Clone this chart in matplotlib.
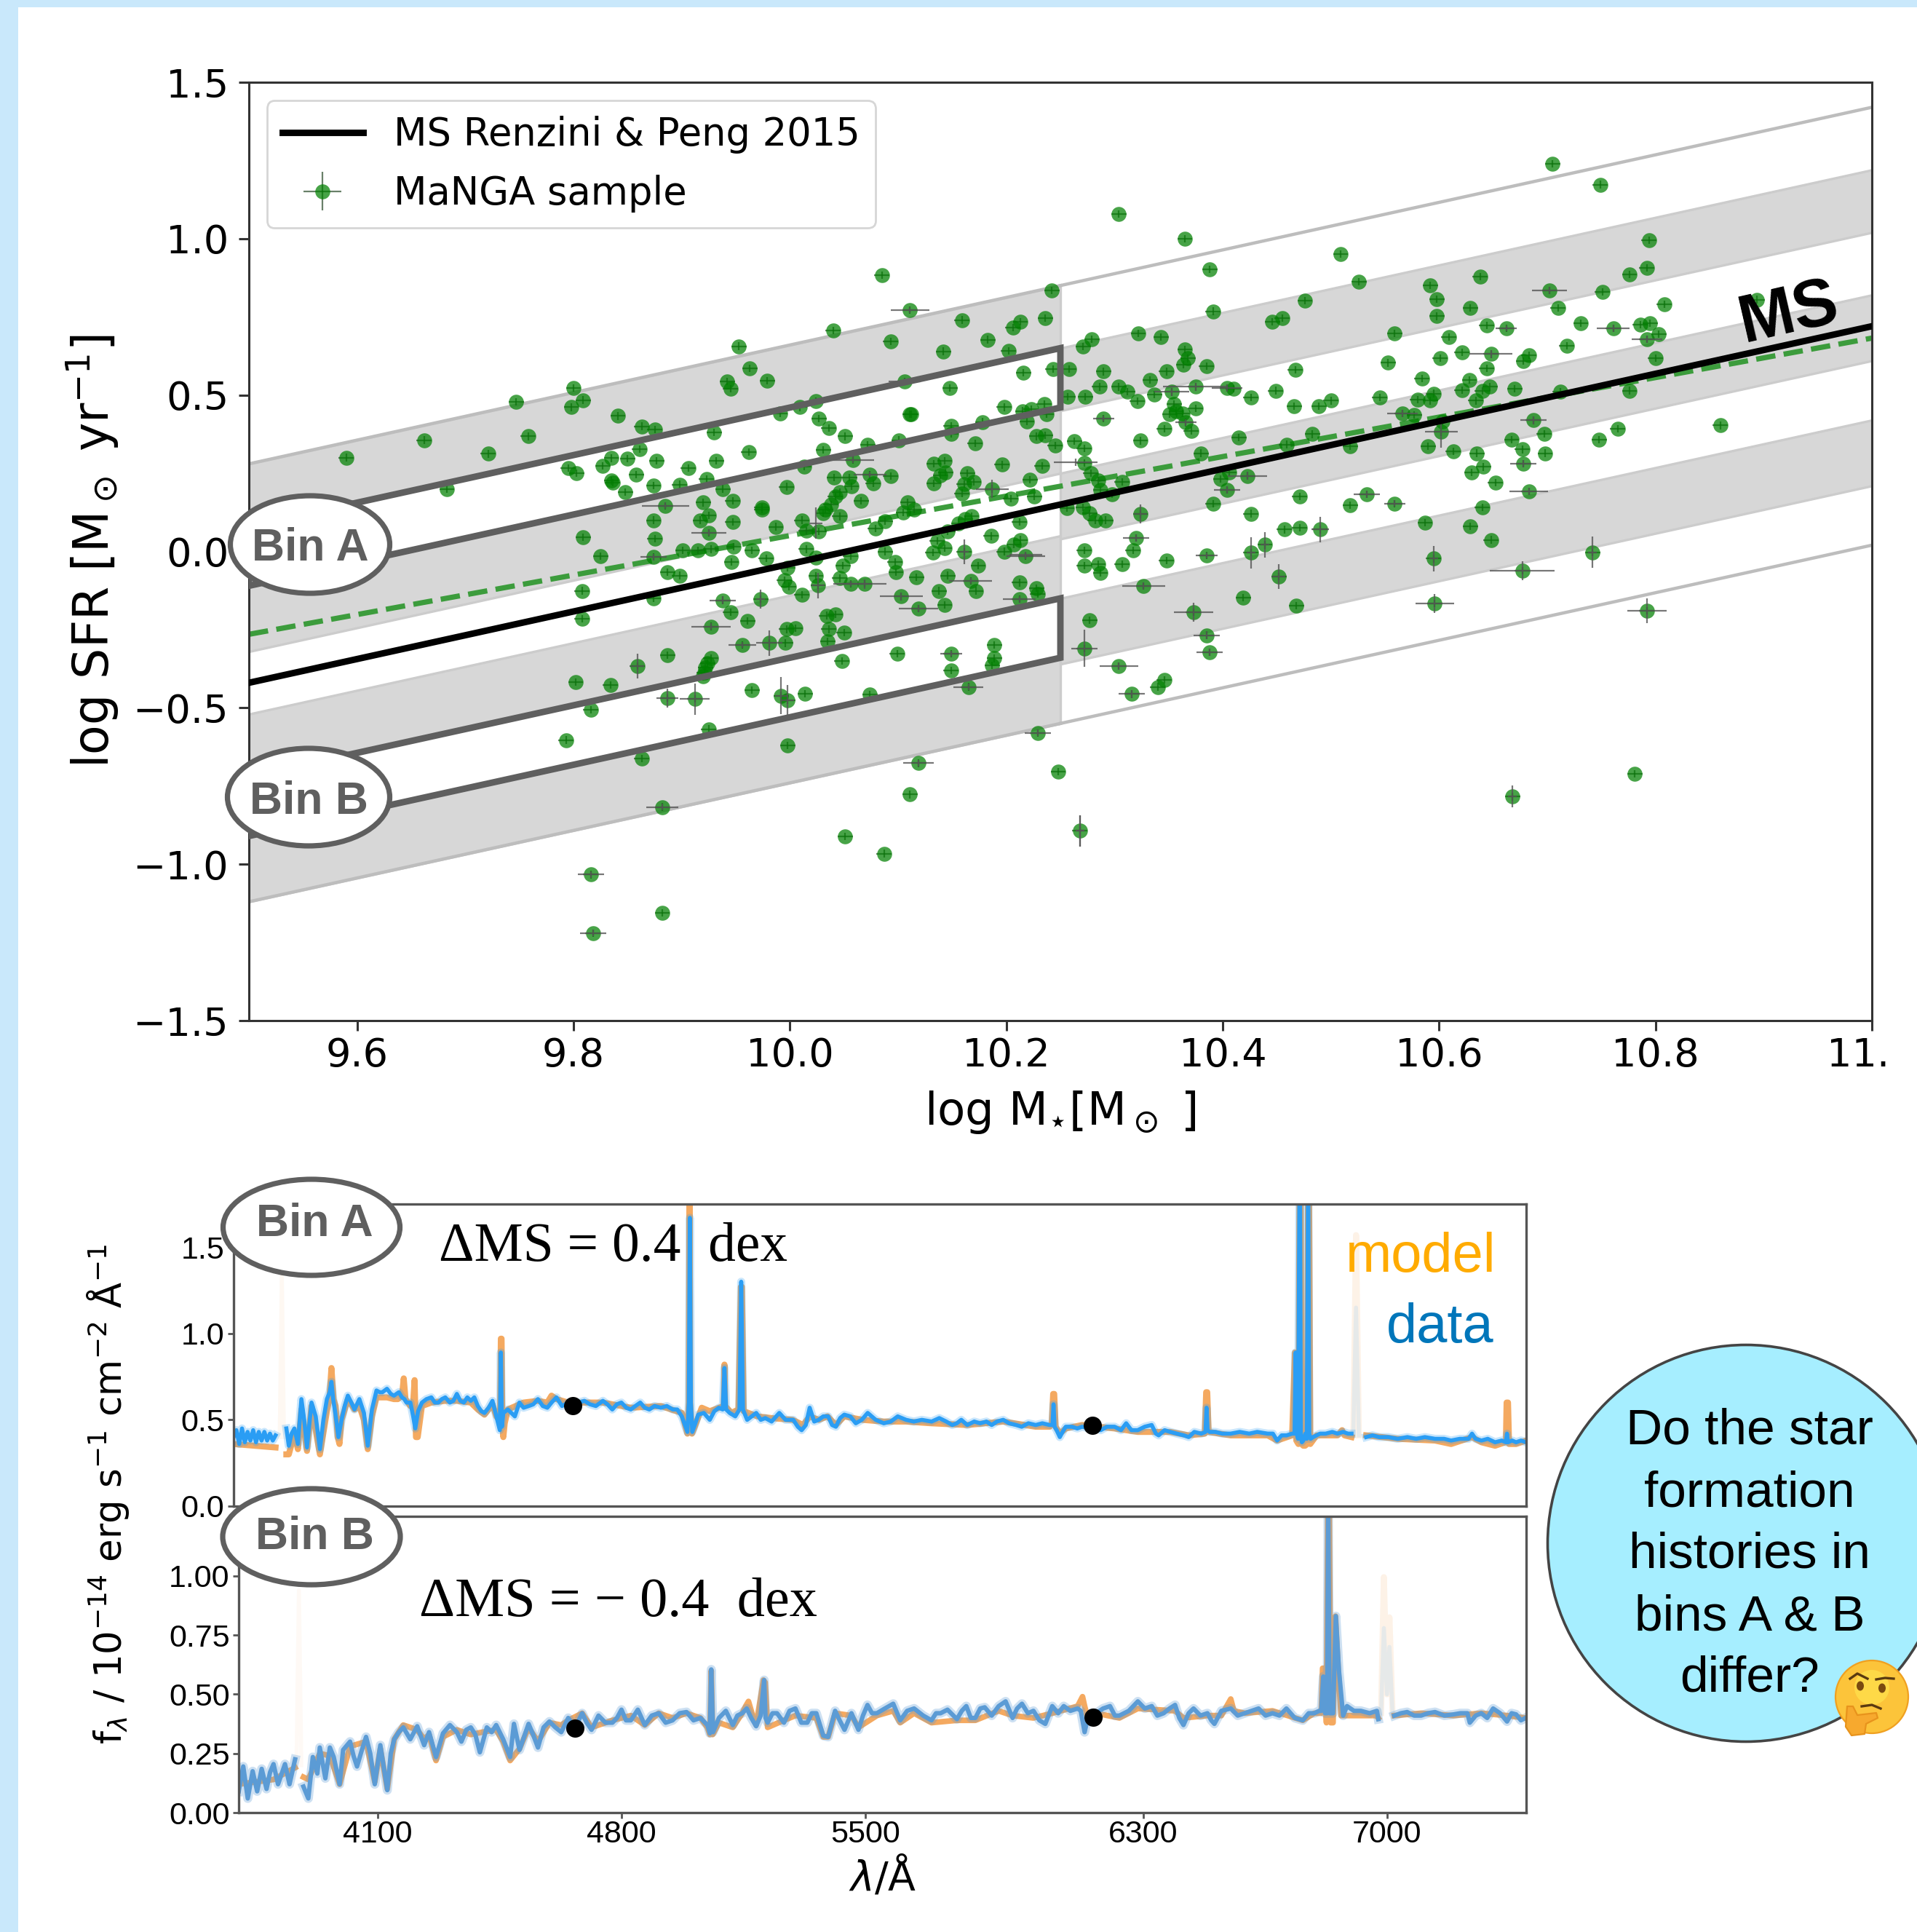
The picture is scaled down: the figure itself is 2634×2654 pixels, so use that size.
import matplotlib
matplotlib.use('Agg')
import matplotlib.pyplot as plt
import numpy as np
from matplotlib.patches import Ellipse, Circle, Rectangle, Polygon
from matplotlib.transforms import ScaledTranslation

nan = float('nan')
W, H = 2634, 2654

# main sequence and the offsets of the grey bands
ms_left_x = [9.5, 10.25]
ms_left_y = [-0.42, 0.15]
ms_right_x = [10.25, 11.0]
ms_right_y = [0.15, 0.72]
left_bands = [(0.70, 0.10), (-0.10, -0.70)]
right_bands = [(0.50, 0.30), (0.10, -0.11), (-0.30, -0.51)]
fit_x = [9.5, 11.0]
fit_y = [-0.265, 0.682]
bin_a_offsets = [0.50, 0.31]
bin_b_offsets = [-0.30, -0.49]

# MaNGA sample
mass = [9.590, 9.662, 9.721, 9.758, 9.747, 9.800, 9.809, 9.798, 9.841, 9.863,
        9.875, 9.683, 9.795, 9.803, 9.827, 9.835, 9.850, 9.861, 9.877, 9.836,
        9.835, 9.858, 9.848, 9.874, 9.898, 9.906, 9.923, 9.932, 9.930, 9.938,
        9.962, 9.942, 9.945, 9.963, 9.979, 9.953, 10.040, 10.085, 10.111, 10.093,
        10.142, 10.159, 10.183, 10.202, 10.206, 10.213, 10.236, 10.242, 10.216, 10.243,
        10.148, 10.106, 9.991, 10.009, 10.024, 10.027, 10.036, 10.051, 10.111, 10.112,
        10.198, 10.215, 10.223, 10.235, 10.237, 10.219, 10.149, 10.149, 10.178, 10.101,
        10.072, 10.031, 10.171, 10.228, 10.236, 10.245, 10.058, 10.013, 10.133, 10.143,
        10.144, 10.139, 10.196, 10.233, 10.041, 10.055, 10.074, 10.093, 10.077, 10.057,
        10.046, 10.042, 10.133, 10.164, 10.170, 10.161, 10.159, 10.187, 10.222, 9.997,
        10.066, 10.038, 10.033, 10.031, 10.046, 9.974, 9.974, 9.885, 9.920, 9.947,
        9.925, 9.917, 9.947, 9.874, 9.809, 9.875, 9.925, 9.987, 10.011, 10.015,
        10.027, 10.079, 10.088, 10.105, 10.109, 10.115, 10.156, 10.162, 10.168, 10.146,
        10.212, 10.226, 10.204, 10.256, 10.271, 10.136, 10.186, 10.213, 10.207, 10.198,
        10.218, 10.272, 10.272, 10.143, 10.132, 10.161, 10.088, 10.056, 10.049, 10.097,
        10.098, 10.174, 10.146, 10.117, 10.167, 10.172, 10.138, 10.212, 10.228, 10.229,
        10.103, 10.143, 10.119, 10.212, 10.069, 10.056, 10.046, 10.026, 10.024, 10.011,
        9.999, 9.995, 9.998, 9.978, 9.965, 9.948, 9.946, 9.927, 9.915, 9.901,
        9.874, 9.825, 9.887, 9.898, 9.808, 9.808, 9.874, 9.938, 9.945, 9.973,
        9.961, 9.927, 10.034, 10.042, 9.997, 10.005, 10.036, 10.050, 10.035, 9.996,
        9.981, 9.956, 9.887, 9.927, 9.924, 9.922, 9.921, 9.920, 9.859, 9.802,
        9.834, 10.048, 10.099, 10.149, 10.189, 10.189, 10.187, 10.149, 10.165, 10.074,
        10.014, 9.998, 9.992, 9.965, 9.912, 9.887, 9.816, 9.793, 9.925, 9.863,
        9.998, 9.882, 10.229, 10.248, 10.119, 10.111, 10.051, 10.087, 10.268, 9.816,
        9.818, 9.882, 10.024, 10.015, 10.272, 10.263, 10.258, 10.257, 10.273, 10.271,
        10.278, 10.272, 10.705, 10.749, 10.304, 10.365, 10.794, 10.792, 10.776, 10.509,
        10.388, 10.526, 10.592, 10.638, 10.598, 10.702, 10.751, 10.476, 10.629, 10.710,
        10.598, 10.391, 10.446, 10.455, 10.808, 10.322, 10.343, 10.279, 10.559, 10.644,
        10.662, 10.731, 10.761, 10.786, 10.795, 10.792, 10.803, 10.609, 10.718, 10.800,
        10.365, 10.368, 10.364, 10.385, 10.348, 10.290, 10.467, 10.553, 10.601, 10.621,
        10.648, 10.683, 10.678, 10.644, 10.584, 10.628, 10.647, 10.640, 10.670, 10.621,
        10.595, 10.580, 10.592, 10.634, 10.545, 10.500, 10.489, 10.466, 10.449, 10.426,
        10.404, 10.410, 10.375, 10.333, 10.337, 10.353, 10.304, 10.312, 10.286, 10.321,
        10.355, 10.375, 10.357, 10.351, 10.363, 10.290, 10.366, 10.371, 10.346, 10.324,
        10.415, 10.483, 10.459, 10.518, 10.380, 10.566, 10.577, 10.603, 10.602, 10.590,
        10.687, 10.697, 10.667, 10.677, 10.748, 10.765, 10.860, 10.712, 10.776, 10.894,
        10.698, 10.613, 10.635, 10.678, 10.641, 10.630, 10.652, 10.683, 10.640, 10.587,
        10.629, 10.648, 10.595, 10.742, 10.677, 10.596, 10.792, 10.533, 10.559, 10.518,
        10.471, 10.490, 10.471, 10.457, 10.426, 10.423, 10.406, 10.398, 10.404, 10.391,
        10.307, 10.285, 10.287, 10.298, 10.277, 10.282, 10.292, 10.324, 10.320, 10.317,
        10.285, 10.287, 10.307, 10.348, 10.385, 10.426, 10.439, 10.452, 10.327, 10.419,
        10.468, 10.373, 10.277, 10.385, 10.388, 10.304, 10.346, 10.340, 10.316, 10.781,
        10.668, 10.272]
sfr = [0.300, 0.356, 0.312, 0.368, 0.478, 0.522, 0.484, 0.461, 0.433, 0.400,
       0.390, 0.200, 0.266, 0.250, 0.274, 0.298, 0.296, 0.327, 0.290, 0.220,
       0.226, 0.245, 0.190, 0.211, 0.214, 0.266, 0.232, 0.290, 0.380, 0.200,
       0.317, 0.543, 0.520, 0.585, 0.545, 0.656, 0.707, 0.884, 0.772, 0.671,
       0.640, 0.740, 0.677, 0.641, 0.716, 0.734, 0.746, 0.835, 0.571, 0.583,
       0.522, 0.543, 0.442, 0.461, 0.481, 0.424, 0.394, 0.368, 0.439, 0.438,
       0.461, 0.449, 0.454, 0.472, 0.439, 0.415, 0.402, 0.376, 0.414, 0.356,
       0.341, 0.324, 0.345, 0.368, 0.372, 0.339, 0.293, 0.271, 0.280, 0.290,
       0.253, 0.243, 0.277, 0.274, 0.237, 0.237, 0.246, 0.241, 0.217, 0.208,
       0.190, 0.176, 0.217, 0.250, 0.223, 0.216, 0.186, 0.200, 0.229, 0.207,
       0.162, 0.149, 0.134, 0.122, 0.112, 0.141, 0.134, 0.146, 0.156, 0.162,
       0.116, 0.100, 0.094, 0.100, 0.045, 0.040, 0.060, 0.079, 0.100, 0.067,
       0.064, 0.074, 0.097, 0.124, 0.156, 0.134, 0.089, 0.104, 0.112, 0.064,
       0.094, 0.176, 0.168, 0.138, 0.141, 0.034, 0.049, 0.037, 0.022, 0.000,
       -0.015, 0.004, -0.045, 0.010, -0.004, -0.001, 0.000, -0.015, -0.045, -0.034,
       -0.067, -0.045, -0.077, -0.082, -0.094, -0.126, -0.126, -0.100, -0.118, -0.135,
       -0.144, -0.171, -0.183, -0.153, -0.104, -0.104, -0.086, -0.109, -0.079, -0.138,
       -0.112, -0.092, -0.052, -0.022, 0.004, 0.015, -0.033, 0.007, 0.004, 0.004,
       -0.018, -0.015, -0.067, -0.077, -0.126, -0.216, -0.149, -0.156, -0.195, -0.153,
       -0.223, -0.240, -0.205, -0.201, -0.249, -0.246, -0.249, -0.260, -0.287, -0.293,
       -0.293, -0.299, -0.332, -0.342, -0.357, -0.372, -0.387, -0.400, -0.366, -0.417,
       -0.427, -0.350, -0.327, -0.327, -0.299, -0.342, -0.365, -0.381, -0.433, -0.458,
       -0.455, -0.476, -0.461, -0.443, -0.472, -0.469, -0.506, -0.603, -0.568, -0.662,
       -0.620, -0.817, -0.580, -0.704, -0.677, -0.777, -0.911, -0.966, -0.893, -1.033,
       -1.220, -1.155, -0.020, 0.007, 0.283, 0.352, 0.583, 0.494, 0.494, 0.655,
       0.250, 0.330, 1.240, 1.173, 1.078, 1.000, 0.995, 0.906, 0.885, 0.951,
       0.902, 0.862, 0.851, 0.879, 0.807, 0.835, 0.830, 0.802, 0.778, 0.778,
       0.752, 0.768, 0.734, 0.746, 0.790, 0.697, 0.686, 0.679, 0.697, 0.723,
       0.713, 0.730, 0.713, 0.725, 0.730, 0.679, 0.695, 0.686, 0.657, 0.618,
       0.646, 0.617, 0.597, 0.593, 0.575, 0.575, 0.581, 0.603, 0.618, 0.636,
       0.631, 0.627, 0.608, 0.585, 0.553, 0.548, 0.526, 0.513, 0.520, 0.516,
       0.505, 0.486, 0.482, 0.482, 0.493, 0.482, 0.464, 0.464, 0.514, 0.492,
       0.523, 0.520, 0.526, 0.548, 0.501, 0.510, 0.526, 0.511, 0.526, 0.481,
       0.471, 0.458, 0.449, 0.438, 0.441, 0.425, 0.412, 0.386, 0.392, 0.354,
       0.364, 0.375, 0.342, 0.337, 0.314, 0.441, 0.437, 0.416, 0.382, 0.337,
       0.419, 0.376, 0.358, 0.326, 0.358, 0.392, 0.403, 0.510, 0.514, 0.805,
       0.314, 0.320, 0.314, 0.281, 0.270, 0.253, 0.220, 0.192, 0.141, 0.092,
       0.080, 0.037, -0.023, -0.003, -0.062, -0.167, -0.190, 0.182, 0.153, 0.147,
       0.176, 0.070, 0.075, 0.070, 0.121, 0.242, 0.253, 0.231, 0.196, 0.153,
       0.222, 0.226, 0.196, 0.182, 0.122, 0.100, 0.100, 0.119, 0.043, 0.003,
       -0.041, -0.068, -0.041, -0.029, -0.013, -0.004, 0.021, -0.080, -0.111, -0.147,
       -0.173, -0.194, -0.220, -0.268, -0.322, -0.366, -0.411, -0.433, -0.456, -0.711,
       -0.784, -0.310]

# the points with error bars that stick out of the marker
mass_w = [9.885, 9.925, 9.874, 9.938, 9.927, 9.973, 9.981, 9.992, 9.998, 9.912,
          9.887, 9.859, 9.956, 10.026, 10.069, 10.056, 10.103, 10.119, 10.167, 10.161,
          10.187, 10.218, 10.212, 10.058, 10.074, 10.024, 9.882, 10.119, 10.111, 10.229,
          9.816, 9.818, 10.268, 10.149, 10.165, 10.106, 10.702, 10.662, 10.761, 10.792,
          10.648, 10.375, 10.404, 10.353, 10.290, 10.366, 10.566, 10.602, 10.687, 10.264,
          10.423, 10.404, 10.324, 10.218, 10.320, 10.385, 10.426, 10.439, 10.490, 10.452,
          10.327, 10.373, 10.272, 10.385, 10.388, 10.304, 10.316, 10.533, 10.559, 10.595,
          10.742, 10.677, 10.596, 10.792, 10.683, 10.678, 10.668, 10.268]
sfr_w = [0.146, 0.060, -0.018, -0.156, -0.240, -0.153, -0.293, -0.461, -0.476, -0.472,
         -0.469, -0.366, -0.299, -0.109, -0.104, -0.104, -0.144, -0.183, -0.094, -0.001,
         0.200, -0.015, -0.153, 0.293, 0.246, 0.090, -0.817, -0.677, 0.772, -0.580,
         -1.033, -1.220, -0.893, -0.327, -0.433, 0.543, 0.835, 0.713, 0.713, 0.679,
         0.631, 0.526, 0.523, 0.510, 0.425, 0.412, 0.441, 0.382, 0.419, 0.285,
         0.242, 0.196, 0.119, -0.011, 0.043, -0.013, -0.004, 0.021, 0.070, -0.080,
         -0.111, -0.194, -0.310, -0.268, -0.322, -0.366, -0.456, 0.182, 0.153, -0.023,
         -0.003, -0.062, -0.167, -0.190, 0.192, 0.281, -0.784, -0.893]
xerr_w = [0.022, 0.016, 0.012, 0.012, 0.018, 0.004, 0.012, 0.006, 0.006, 0.014,
          0.010, 0.006, 0.013, 0.006, 0.020, 0.016, 0.020, 0.018, 0.020, 0.004,
          0.015, 0.018, 0.015, 0.020, 0.015, 0.006, 0.015, 0.014, 0.018, 0.012,
          0.012, 0.012, 0.004, 0.010, 0.014, 0.015, 0.016, 0.010, 0.015, 0.014,
          0.020, 0.030, 0.014, 0.016, 0.010, 0.010, 0.014, 0.015, 0.012, 0.020,
          0.018, 0.012, 0.006, 0.015, 0.012, 0.010, 0.004, 0.004, 0.008, 0.006,
          0.020, 0.018, 0.012, 0.012, 0.012, 0.018, 0.012, 0.012, 0.010, 0.004,
          0.004, 0.030, 0.018, 0.018, 0.018, 0.012, 0.004, 0.004]
yerr_w = [0.010, 0.010, 0.010, 0.012, 0.010, 0.030, 0.040, 0.060, 0.050, 0.050,
          0.030, 0.040, 0.010, 0.040, 0.015, 0.010, 0.012, 0.012, 0.010, 0.040,
          0.030, 0.010, 0.010, 0.010, 0.010, 0.050, 0.010, 0.010, 0.010, 0.010,
          0.010, 0.010, 0.050, 0.010, 0.010, 0.010, 0.012, 0.010, 0.012, 0.012,
          0.012, 0.012, 0.012, 0.012, 0.010, 0.010, 0.012, 0.050, 0.012, 0.012,
          0.012, 0.012, 0.030, 0.010, 0.012, 0.010, 0.050, 0.040, 0.040, 0.040,
          0.012, 0.030, 0.060, 0.012, 0.012, 0.012, 0.012, 0.012, 0.010, 0.040,
          0.050, 0.030, 0.030, 0.040, 0.012, 0.012, 0.035, 0.050]

# spectrum of bin A
wave_a = [3700, 3708, 3716, 3724, 3732, 3740, 3748, 3756, 3764, 3772,
          3780, 3788, 3796, 3804, 3812, 3820, 3835, 3851, 3858, 3866,
          3874, 3884, 3894, 3902, 3910, 3923, 3935, 3947, 3957, 3967,
          3975, 3980, 3985, 3991, 4000, 4009, 4018, 4027, 4037, 4046,
          4060, 4073, 4084, 4096, 4109, 4118, 4126, 4139, 4150, 4159,
          4173, 4182, 4189, 4195, 4206, 4214, 4220, 4228, 4239, 4252,
          4266, 4276, 4286, 4296, 4306, 4319, 4329, 4339, 4349, 4359,
          4369, 4379, 4389, 4399, 4409, 4418, 4430, 4441, 4452, 4462,
          4465, 4468, 4472, 4485, 4495, 4505, 4518, 4530, 4545, 4558,
          4571, 4585, 4598, 4610, 4624, 4640, 4658, 4672, 4688, 4704,
          4720, 4737, 4757, 4770, 4784, 4797, 4810, 4824, 4837, 4850,
          4864, 4877, 4890, 4905, 4923, 4940, 4957, 4970, 4983, 4992,
          4999, 5003, 5006, 5009, 5013, 5020, 5030, 5046, 5063, 5076,
          5089, 5100, 5105, 5110, 5120, 5136, 5148, 5153, 5158, 5170,
          5183, 5196, 5209, 5222, 5240, 5262, 5280, 5302, 5315, 5326,
          5338, 5349, 5362, 5375, 5388, 5402, 5413, 5424, 5436, 5448,
          5465, 5481, 5498, 5515, 5538, 5561, 5581, 5601, 5625, 5647,
          5670, 5698, 5720, 5740, 5757, 5770, 5783, 5800, 5820, 5837,
          5855, 5870, 5885, 5903, 5920, 5940, 5956, 5975, 5996, 6015,
          6036, 6044, 6047, 6050, 6056, 6065, 6073, 6082, 6100, 6115,
          6129, 6150, 6165, 6182, 6200, 6222, 6240, 6255, 6270, 6288,
          6308, 6328, 6340, 6348, 6365, 6381, 6400, 6420, 6434, 6450,
          6470, 6482, 6485, 6488, 6494, 6510, 6530, 6554, 6580, 6607,
          6630, 6660, 6675, 6687, 6700, 6714, 6730, 6737, 6740, 6743,
          6747, 6752, 6755, 6758, 6762, 6768, 6772, 6776, 6779, 6783,
          6790, 6810, 6826, 6845, 6860, 6876, 6890, 6900, 6915, 6942,
          6960, 6979, 7005, 7032, 7060, 7085, 7110, 7139, 7165, 7185,
          7210, 7235, 7245, 7255, 7272, 7290, 7311, 7330, 7342, 7345,
          7348, 7360, 7371, 7385, 7400]
data_a = [.40, .44, .36, .45, .37, .43, .38, .44, .37, .43,
          .38, .43, .38, .42, .38, .41, nan, .45, .35, .42,
          .45, .36, .62, .50, .34, .60, .52, .33, .50, .62,
          .66, .72, .62, .54, .40, .50, .58, .64, .60, .56,
          .62, .54, .35, .56, .67, .66, .66, .68, .65, .64,
          .66, .63, .62, .60, .60, .52, .45, .55, .60, .62,
          .63, .60, .60, .62, .63, .60, .61, .65, .61, .60,
          .63, .61, .63, .58, .55, .54, .57, .61, .52, .44,
          .89, .46, .54, .56, .54, .52, .60, .57, .58, .59,
          .62, .58, .57, .60, .63, .58, .60, .58, .60, .61,
          .59, .58, .61, .59, .56, .59, .60, .57, .56, .58,
          .60, .57, .56, .58, .57, .58, .56, .56, .52, .47,
          .43, .60, 1.67, .60, .43, .47, .53, .54, .50, .55,
          .57, .56, .80, .56, .54, .52, .56, 1.30, .56, .50,
          .52, .54, .50, .51, .49, .54, .50, .50, .46, .44,
          .47, .57, .49, .50, .52, .52, .47, .46, .51, .53,
          .52, .48, .50, .54, .50, .48, .49, .52, .50, .49,
          .50, .49, .51, .49, .47, .48, .50, .47, .49, .48,
          .49, .47, .49, .50, .48, .47, .46, .48, .47, .48,
          .47, .47, .59, .46, .44, .40, .43, .46, .46, .45,
          .46, .45, .47, .44, .46, .46, .44, .48, .44, .44,
          .46, .47, .42, .41, .44, .43, .42, .41, .40, .43,
          .42, .43, .57, .44, .43, .43, .42, .42, .43, .42,
          .43, .42, .42, .38, .41, .41, .42, .42, .89, .42,
          .39, 2.2, .40, .37, .38, .42, .39, 2.0, .42, .39,
          .40, .42, .42, .43, .42, .43, .42, .42, nan, .40,
          .41, .40, .40, .39, .40, .39, .40, .39, .39, .38,
          .39, .39, .42, .39, .38, .39, .37, .38, .37, .42,
          .37, .38, .37, .38, .37]
wave_model_a = [3700, 3820, 3835, 3851, 3858, 3874, 3884, 3894, 3910, 3923,
                3947, 3967, 3974, 3980, 3986, 3992, 3998, 4003, 4009, 4027,
                4046, 4060, 4073, 4084, 4096, 4109, 4139, 4159, 4170, 4182,
                4187, 4192, 4206, 4214, 4218, 4222, 4227, 4239, 4266, 4306,
                4339, 4379, 4399, 4418, 4441, 4452, 4460, 4463, 4465, 4467,
                4469, 4472, 4476, 4485, 4530, 4571, 4598, 4610, 4624, 4658,
                4700, 4757, 4837, 4923, 4983, 4999, 5003, 5005, 5007, 5012,
                5020, 5040, 5063, 5090, 5103, 5105, 5107, 5125, 5145, 5152,
                5155, 5160, 5200, 5240, 5300, 5330, 5349, 5375, 5400, 5424,
                5448, 5500, 5561, 5625, 5698, 5800, 5903, 5996, 6036, 6042,
                6046, 6049, 6053, 6065, 6082, 6129, 6222, 6288, 6381, 6434,
                6480, 6484, 6487, 6491, 6554, 6660, 6687, 6730, 6738, 6742,
                6748, 6752, 6754, 6757, 6762, 6767, 6773, 6776, 6778, 6782,
                6800, 6860, 6873, 6880, 6900, 6915, 6942, 7032, 7139, 7185,
                7245, 7272, 7311, 7340, 7342, 7344, 7348, 7351, 7371, 7400]
model_a = [.36, .34, nan, .30, .30, .42, .33, .56, .32, .58,
           .30, .55, .62, .80, .62, .58, .40, .36, .50, .62,
           .56, .58, .50, .33, .52, .63, .63, .62, .62, .64,
           .74, .62, .58, .60, .73, .40, .40, .58, .60, .61,
           .61, .60, .56, .53, .59, .52, .50, .56, .97, .97,
           .50, .40, .48, .56, .60, .61, .60, .64, .62, .60,
           .60, .60, .57, .58, .54, .42, .60, 2.0, .60, .42,
           .46, .57, .55, .57, .58, .82, .58, .54, .56, 1.27,
           1.27, .55, .52, .51, .50, .47, .52, .50, .52, .47,
           .52, .50, .49, .49, .48, .47, .49, .46, .46, .48,
           .65, .65, .46, .42, .45, .47, .45, .43, .43, .41,
           .42, .66, .66, .43, .41, .41, .38, .41, .89, .38,
           .36, 2.2, 2.2, .36, .35, .35, .36, 2.0, 2.0, .36,
           .41, .41, .44, .41, .40, nan, .41, .39, .38, .36,
           .40, .37, .35, .37, .37, .60, .60, .36, .36, .38]
dots_a_wave = [4671, 6158]
dots_a_flux = [0.582, 0.470]

# spectrum of bin B
wave_b = [3700, 3713, 3726, 3740, 3753, 3766, 3780, 3790, 3800, 3813,
          3833, 3846, 3862, 3870, 3886, 3900, 3913, 3926, 3933, 3949,
          3962, 3973, 3990, 4000, 4020, 4030, 4040, 4053, 4066, 4078,
          4091, 4107, 4127, 4137, 4147, 4160, 4173, 4193, 4213, 4233,
          4247, 4267, 4287, 4307, 4327, 4340, 4354, 4367, 4380, 4393,
          4413, 4427, 4440, 4460, 4480, 4491, 4507, 4533, 4546, 4560,
          4576, 4593, 4610, 4627, 4647, 4667, 4687, 4700, 4714, 4734,
          4754, 4774, 4787, 4800, 4813, 4827, 4847, 4867, 4887, 4907,
          4927, 4947, 4967, 4987, 5007, 5027, 5047, 5054, 5058, 5063,
          5080, 5100, 5120, 5133, 5147, 5160, 5173, 5187, 5200, 5210,
          5214, 5220, 5234, 5247, 5267, 5283, 5300, 5317, 5334, 5347,
          5360, 5380, 5394, 5414, 5427, 5441, 5461, 5481, 5494, 5507,
          5520, 5534, 5557, 5581, 5601, 5621, 5641, 5667, 5691, 5704,
          5717, 5737, 5764, 5778, 5791, 5804, 5817, 5831, 5844, 5864,
          5884, 5904, 5924, 5937, 5951, 5968, 5984, 6001, 6018, 6038,
          6055, 6071, 6090, 6111, 6120, 6131, 6140, 6150, 6164, 6184,
          6204, 6218, 6231, 6258, 6284, 6304, 6324, 6340, 6358, 6375,
          6391, 6403, 6415, 6430, 6444, 6464, 6484, 6495, 6504, 6524,
          6551, 6571, 6591, 6611, 6631, 6651, 6671, 6691, 6711, 6735,
          6758, 6775, 6791, 6805, 6811, 6817, 6822, 6828, 6831, 6835,
          6839, 6845, 6853, 6862, 6874, 6885, 6905, 6925, 6950, 6971,
          6975, 6990, 7021, 7040, 7058, 7078, 7098, 7118, 7138, 7165,
          7191, 7211, 7231, 7238, 7255, 7271, 7288, 7305, 7325, 7345,
          7358, 7371, 7385, 7398]
data_b = [.09, .195, .06, .175, .09, .185, .10, .17, .205, .12,
          .205, .12, .225, nan, .11, .06, .235, .165, .275, .145,
          .275, .235, .12, .265, .30, .24, .195, .26, .32, .25,
          .12, .285, .095, .25, .31, .34, .36, .31, .365, .285,
          .34, .235, .335, .37, .34, .30, .35, .36, .33, .255,
          .36, .34, .37, .31, .235, .375, .265, .375, .33, .275,
          .36, .385, .36, .34, .40, .36, .42, .38, .35, .41,
          .38, .38, .40, .435, .39, .39, .435, .37, .41, .42,
          .38, .39, .42, .425, .39, .40, .37, .335, .605, .34,
          .40, .43, .37, .41, .42, .44, .40, .365, .41, .56,
          .40, .38, .42, .42, .38, .43, .44, .38, .38, .42,
          .42, .325, .32, .43, .39, .35, .42, .35, .41, .455,
          .42, .42, .44, .46, .39, .43, .44, .41, .39, .42,
          .42, .435, .395, .43, .45, .40, .40, .44, .445, .41,
          .45, .47, .40, .44, .46, .42, .43, .39, .375, .45,
          .42, .45, .43, .44, .43, .34, .40, .42, .42, .44,
          .45, .41, .41, .43, .47, .44, .45, .41, .42, .44,
          .455, .40, .37, .42, .44, .41, .42, .39, .375, .43,
          .44, .41, .42, .43, .44, .41, .42, .41, .44, .40,
          .39, .42, .42, .43, .43, .575, .42, .42, 1.30, .42,
          .42, .42, .83, .60, .41, .45, .43, .43, .42, .43,
          .395, nan, .41, .42, .425, .41, .41, .42, .425, .41,
          .415, .42, .42, .38, .41, .42, .40, .44, .42, .385,
          .42, .415, .39, .40]
wave_model_b = [3700, 3800, 3862, 3870, 3886, 3900, 3933, 3962, 3990, 4020,
                4066, 4091, 4107, 4127, 4147, 4173, 4213, 4233, 4247, 4267,
                4287, 4327, 4367, 4400, 4440, 4460, 4480, 4507, 4533, 4560,
                4593, 4627, 4647, 4687, 4714, 4774, 4827, 4867, 4907, 4947,
                4987, 5027, 5047, 5054, 5058, 5062, 5080, 5120, 5147, 5157,
                5165, 5175, 5187, 5208, 5213, 5220, 5267, 5300, 5360, 5380,
                5394, 5414, 5461, 5481, 5534, 5581, 5601, 5641, 5691, 5764,
                5817, 5884, 5924, 5984, 6038, 6111, 6125, 6131, 6140, 6164,
                6231, 6284, 6391, 6415, 6484, 6524, 6551, 6560, 6591, 6671,
                6758, 6791, 6811, 6815, 6820, 6826, 6830, 6834, 6838, 6845,
                6852, 6860, 6868, 6885, 6925, 6971, 6975, 6990, 7021, 7098,
                7191, 7271, 7345, 7398]
model_b = [.12, .14, .19, nan, .15, .14, .25, .24, .12, .28,
           .30, .13, .27, .10, .31, .37, .35, .31, .33, .22,
           .32, .35, .33, .34, .35, .30, .22, .27, .36, .30,
           .38, .37, .39, .42, .36, .39, .41, .37, .42, .40,
           .42, .40, .36, .33, .60, .33, .38, .36, .42, .45,
           .47, .42, .37, .56, .55, .36, .39, .41, .40, .32,
           .32, .42, .41, .36, .41, .43, .38, .42, .38, .39,
           .39, .43, .41, .40, .42, .45, .49, .45, .40, .42,
           .40, .44, .43, .40, .41, .41, .48, .43, .42, .43,
           .39, .42, .42, .61, .61, .38, 1.30, 1.30, .38, .38,
           .83, .60, .41, .41, .41, .41, .40, nan, .41, .42,
           .41, .42, .41, .40]
dots_b_wave = [4667, 6156]
dots_b_flux = [0.357, 0.403]

# masked sky lines, almost invisible
sky_wave_a1 = [3832, 3838, 3844]
sky_flux_a1 = [.40, 1.33, .40]
sky_wave_a2 = [6905, 6913, 6921]
sky_model_a2 = [.41, 1.57, .41]
sky_data_a2 = [.41, 1.15, .41]
sky_wave_b1 = [3866, 3873, 3880]
sky_flux_b1 = [.20, .94, .20]
sky_wave_b2 = [6983, 6991, 7000, 7007, 7016]
sky_model_b2 = [.42, .995, .50, .825, .42]
sky_data_b2 = [.42, .78, .50, .70, .42]

wave_ticks = [4100, 4800, 5500, 6300, 7000]
question = ['Do the star', 'formation', 'histories in', 'bins A & B', 'differ?']

BOX = '#5f5f5f'
ORANGE = '#f4a960'


def px_axes(fig, left, top, right, bottom):
    return fig.add_axes([left / W, 1 - bottom / H, (right - left) / W, (bottom - top) / H])


fig = plt.figure(figsize=(W / 200, H / 200), dpi=200, facecolor='#c9e8fb')
fig.add_artist(Rectangle((25 / W, 0), 1, 1 - 10 / H, transform=fig.transFigure,
                         facecolor='white', edgecolor='none', zorder=-5))

# ---- top panel
ax = px_axes(fig, 342, 113, 2572, 1402)
for (xs, ys, bands) in [(ms_left_x, ms_left_y, left_bands), (ms_right_x, ms_right_y, right_bands)]:
    for up, low in bands:
        ax.fill_between(xs, np.array(ys) + up, np.array(ys) + low, color='#d7d7d7', lw=1.2,
                        edgecolor='#cccccc', zorder=1)
ax.plot(ms_right_x, np.array(ms_right_y) + 0.70, color='#bdbdbd', lw=1.6, zorder=1)
ax.plot(ms_right_x, np.array(ms_right_y) - 0.70, color='#bdbdbd', lw=1.6, zorder=1)
ax.plot(ms_left_x, np.array(ms_left_y) + 0.70, color='#bdbdbd', lw=1.6, zorder=1)
ax.plot(ms_left_x, np.array(ms_left_y) - 0.70, color='#bdbdbd', lw=1.6, zorder=1)

for offs in (bin_a_offsets, bin_b_offsets):
    xy = [(ms_left_x[0], ms_left_y[0] + offs[0]), (ms_left_x[1], ms_left_y[1] + offs[0]),
          (ms_left_x[1], ms_left_y[1] + offs[1]), (ms_left_x[0], ms_left_y[0] + offs[1])]
    ax.add_patch(Polygon(xy, closed=True, facecolor='white', edgecolor='none', zorder=1.5))
    ax.add_patch(Polygon(xy, closed=True, facecolor='none', edgecolor=BOX, lw=3.2,
                         joinstyle='miter', zorder=4))

ax.plot(fit_x, fit_y, color='#3c9c3c', ls='--', lw=2.6, zorder=2)
ax.plot(ms_left_x + ms_right_x, ms_left_y + ms_right_y, color='black', lw=3.2, zorder=3,
        label='MS Renzini & Peng 2015')
ax.errorbar(mass, sfr, xerr=0.007, yerr=0.012, fmt='o', color='green', ms=7.4, alpha=0.72,
            ecolor='#2f4f2f', elinewidth=0.8, mec='none', zorder=2.5, label='MaNGA sample')
ax.errorbar(mass_w, sfr_w, xerr=xerr_w, yerr=yerr_w, fmt='none', ecolor='#555555',
            elinewidth=0.8, alpha=0.8, zorder=2.6)

ax.set_xlim(9.5, 11.0)
ax.set_ylim(-1.5, 1.5)
ax.set_xticks([9.6, 9.8, 10.0, 10.2, 10.4, 10.6, 10.8, 11.0])
ax.set_xticklabels(['9.6', '9.8', '10.0', '10.2', '10.4', '10.6', '10.8', '11.'])
ax.set_yticks([-1.5, -1.0, -0.5, 0.0, 0.5, 1.0, 1.5])
ax.set_yticklabels(['\u22121.5', '\u22121.0', '\u22120.5', '0.0', '0.5', '1.0', '1.5'])
ax.tick_params(labelsize=19.5, length=5, width=1.1, color='#333333')
ax.tick_params(axis='x', pad=3)
ax.tick_params(axis='y', pad=5)
last = ax.get_xticklabels()[-1]
last.set_transform(last.get_transform() + ScaledTranslation(-6.7 / 72, 0, fig.dpi_scale_trans))
for s in ax.spines.values():
    s.set_color('#333333')
    s.set_linewidth(1.1)
ax.set_xlabel(r'log M$_{\star}$[M$_\odot$ ]', fontsize=22.5, labelpad=7)
ax.set_ylabel(r'log SFR [M$_\odot$ yr$^{-1}$]', fontsize=24, labelpad=6)
ax.legend(loc='upper left', bbox_to_anchor=(-0.002, 1.003), fontsize=19, borderaxespad=0.55,
          handlelength=2.1, labelspacing=0.55, framealpha=0.8)

# ---- spectrum panels
ax_a = px_axes(fig, 321, 1654, 2097, 2069)
ax_a.plot(sky_wave_a1, sky_flux_a1, color=ORANGE, lw=2, alpha=0.08)
ax_a.plot(sky_wave_a2, sky_model_a2, color=ORANGE, lw=3, alpha=0.15)
ax_a.plot(sky_wave_a2, sky_data_a2, color='#1e9bff', lw=2, alpha=0.10)
ax_a.plot(wave_model_a, model_a, color=ORANGE, lw=3, solid_joinstyle='round')
ax_a.plot(wave_a, data_a, color='#2a9df4', lw=4, alpha=0.25, solid_joinstyle='round')
ax_a.plot(wave_a, data_a, color='#2a9df4', lw=2, solid_joinstyle='round')
ax_a.plot(dots_a_wave, dots_a_flux, 'o', color='black', ms=8, zorder=5)
ax_a.set_xlim(3700, 7400)
ax_a.set_ylim(0, 1.75)
ax_a.set_xticks([])
ax_a.set_yticks([0, 0.5, 1.0, 1.5])
ax_a.set_yticklabels(['0.0', '0.5', '1.0', '1.5'], family='Liberation Sans')
ax_a.tick_params(labelsize=15.5, length=3, width=1, color='#555555', pad=1.5)

ax_b = px_axes(fig, 328, 2083, 2097, 2490)
ax_b.plot(sky_wave_b1, sky_flux_b1, color=ORANGE, lw=2, alpha=0.06)
ax_b.plot(sky_wave_b2, sky_model_b2, color=ORANGE, lw=3, alpha=0.15)
ax_b.plot(sky_wave_b2, sky_data_b2, color='#1e9bff', lw=2, alpha=0.10)
ax_b.plot(wave_model_b, model_b, color=ORANGE, lw=2.8, solid_joinstyle='round')
ax_b.plot(wave_b, data_b, color='#5b9bd5', lw=4.5, alpha=0.3, solid_joinstyle='round')
ax_b.plot(wave_b, data_b, color='#5b9bd5', lw=2.2, solid_joinstyle='round')
ax_b.plot(dots_b_wave, dots_b_flux, 'o', color='black', ms=8, zorder=5)
ax_b.set_xlim(3700, 7400)
ax_b.set_ylim(0, 1.252)
ax_b.set_xticks(wave_ticks)
ax_b.set_xticklabels([str(w) for w in wave_ticks], family='Liberation Sans')
ax_b.set_yticks([0, 0.25, 0.5, 0.75, 1.0])
ax_b.set_yticklabels(['0.00', '0.25', '0.50', '0.75', '1.00'], family='Liberation Sans')
ax_b.tick_params(labelsize=15.5, length=3, width=1, color='#555555', pad=1.5)
ax_b.tick_params(axis='x', pad=0.5)
ax_b.set_xlabel(r'$\lambda$/$\mathrm{\AA}$', fontsize=20, labelpad=3)
for a in (ax_a, ax_b):
    for s in a.spines.values():
        s.set_color('#555555')
        s.set_linewidth(1.2)

# ---- everything pasted on top, in picture pixels
top = fig.add_axes([0, 0, 1, 1], zorder=10)
top.set_xlim(0, W)
top.set_ylim(H, 0)
top.axis('off')

top.text(149, 2052, r'f$_\lambda$ / 10$^{-14}$ erg s$^{-1}$ cm$^{-2}$ $\mathrm{\AA}^{-1}$', fontsize=18.5,
         rotation=90, ha='center', va='center')

for cx, cy, w, h, name, tx, ty in [(426, 748, 219, 134, 'Bin A', 426, 754),
                                   (424, 1095, 223, 134, 'Bin B', 424, 1101),
                                   (428, 1686, 243, 132, 'Bin A', 432, 1682),
                                   (428, 2111, 244, 132, 'Bin B', 432, 2112)]:
    top.add_patch(Ellipse((cx, cy), w, h, facecolor='white', edgecolor=BOX, lw=2.6))
    top.text(tx, ty, name, fontsize=22.5, fontweight='bold', color=BOX, family='Liberation Sans',
             ha='center', va='center')

top.text(1452 * W / 1556, 431, 'MS', fontsize=33, fontweight='bold', color='black',
         family='Liberation Sans', rotation=13, ha='center', va='center', zorder=6)

top.text(603, 1732, '\u0394MS = 0.4  dex', fontsize=27.2, family='Liberation Serif', ha='left', va='baseline')
top.text(576, 2220, '\u0394MS = \u2212 0.4  dex', fontsize=27.5, family='Liberation Serif', ha='left', va='baseline')
top.text(2056, 1747, 'model', fontsize=27.3, color='#ffab00', family='Liberation Sans', ha='right', va='baseline')
top.text(2053, 1844, 'data', fontsize=27.3, color='#0076ba', family='Liberation Sans', ha='right', va='baseline')

top.add_patch(Circle((2399, 2120), 272.5, facecolor='#a6eeff', edgecolor='#444444', lw=1.3))
for i, line in enumerate(question):
    top.text(2404, 1984 + 85 * i, line, fontsize=25, family='Liberation Sans', ha='center', va='baseline')

# thinking face
top.add_patch(Circle((2572, 2331), 50, facecolor='#fcc43a', edgecolor='#f0a020', lw=0.8))
top.add_patch(Circle((2572, 2318), 24, facecolor='#ffe24d', edgecolor='none', alpha=0.7))
top.add_patch(Ellipse((2556, 2316), 10, 13, facecolor='#7a4a10', edgecolor='none'))
top.add_patch(Ellipse((2586, 2319), 10, 13, facecolor='#7a4a10', edgecolor='none'))
top.plot([2542, 2552, 2566], [2306, 2299, 2306], color='#5a3a10', lw=1.2)
top.plot([2578, 2590, 2602], [2307, 2305, 2306], color='#5a3a10', lw=1.2)
top.plot([2558, 2572, 2584], [2344, 2342, 2347], color='#5a3a10', lw=1.2)
top.add_patch(Polygon([(2538, 2344), (2546, 2344), (2552, 2356), (2578, 2353), (2580, 2360),
                       (2564, 2368), (2562, 2382), (2544, 2384), (2536, 2372)],
                      closed=True, facecolor='#f7a92e', edgecolor='#e8931c', lw=0.8, joinstyle='round'))

fig.savefig('out.png', dpi=200, facecolor=fig.get_facecolor())
